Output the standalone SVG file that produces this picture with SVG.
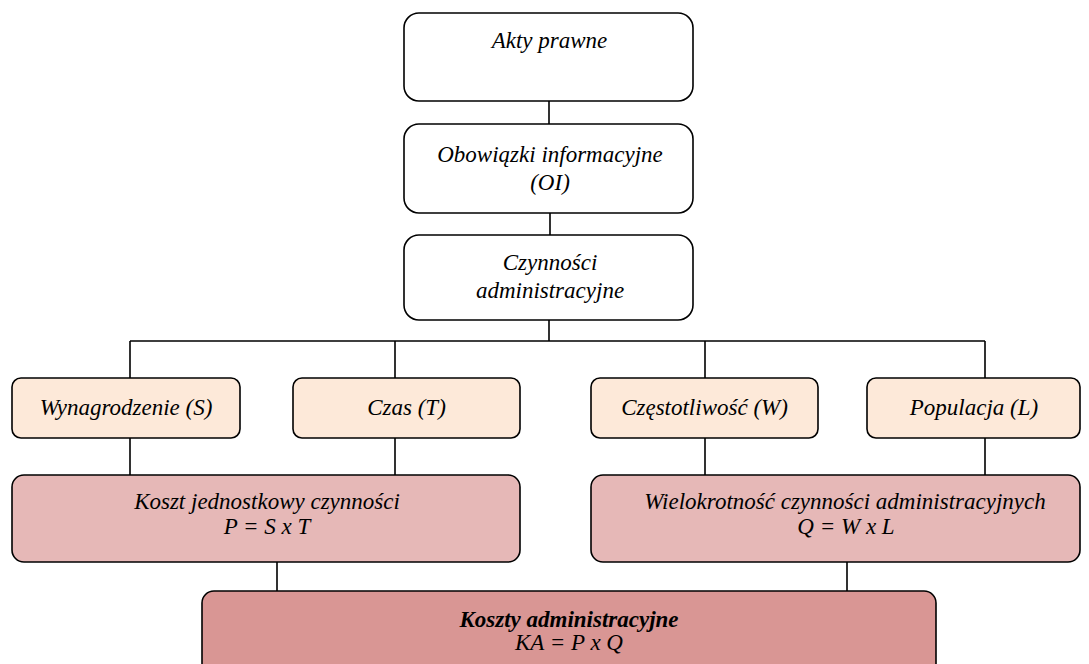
<svg xmlns="http://www.w3.org/2000/svg" width="1089" height="664" viewBox="0 0 1089 664">
<style>
.b{stroke:#000;stroke-width:1.6}
.w{fill:#fff}
.p1{fill:#FDE9D9}
.p2{fill:#E6B8B7}
.p3{fill:#D99694}
text{font-family:"Liberation Serif","Times New Roman",serif;font-style:italic;font-size:23px;fill:#000;text-anchor:middle}
.bold{font-weight:bold}
.c{stroke:#000;stroke-width:1.6;fill:none}
</style>
<rect width="1089" height="664" fill="#fff"/>
<g id="connectors">
<path class="c" d="M549 101V124M550 213V235M549 320V341M130 341H985M130 341V378M395 341V378M705 341V378M985 341V378M130 438V475M395 438V475M705 438V475M985 438V475M277 562V591M847 562V591"/>
</g>
<g id="akty"><rect class="b w" x="404" y="13" width="289" height="88" rx="15"/><text x="549.5" y="48">Akty prawne</text></g>
<g id="oi"><rect class="b w" x="404" y="124" width="289" height="89" rx="15"/><text x="550" y="162">Obowiązki informacyjne</text><text x="550" y="190">(OI)</text></g>
<g id="czynnosci"><rect class="b w" x="404" y="235" width="289" height="85" rx="15"/><text x="550" y="270">Czynności</text><text x="550" y="298">administracyjne</text></g>
<g id="s"><rect class="b p1" x="12" y="378" width="228" height="60" rx="9"/><text x="126" y="415">Wynagrodzenie (S)</text></g>
<g id="t"><rect class="b p1" x="293" y="378" width="227" height="60" rx="9"/><text x="406.5" y="415">Czas (T)</text></g>
<g id="w"><rect class="b p1" x="591" y="378" width="227" height="60" rx="9"/><text x="704.5" y="415">Częstotliwość (W)</text></g>
<g id="l"><rect class="b p1" x="867" y="378" width="213" height="60" rx="9"/><text x="974" y="415">Populacja (L)</text></g>
<g id="p"><rect class="b p2" x="12" y="475" width="508" height="87" rx="12"/><text x="267" y="509">Koszt jednostkowy czynności</text><text x="267" y="534">P = S x T</text></g>
<g id="q"><rect class="b p2" x="591" y="475" width="489" height="87" rx="12"/><text x="845" y="509">Wielokrotność czynności administracyjnych</text><text x="846" y="534">Q = W x L</text></g>
<g id="ka"><rect class="b p3" x="202" y="591" width="734" height="90" rx="12"/><text class="bold" x="569" y="627">Koszty administracyjne</text><text x="569" y="650">KA = P x Q</text></g>
</svg>
